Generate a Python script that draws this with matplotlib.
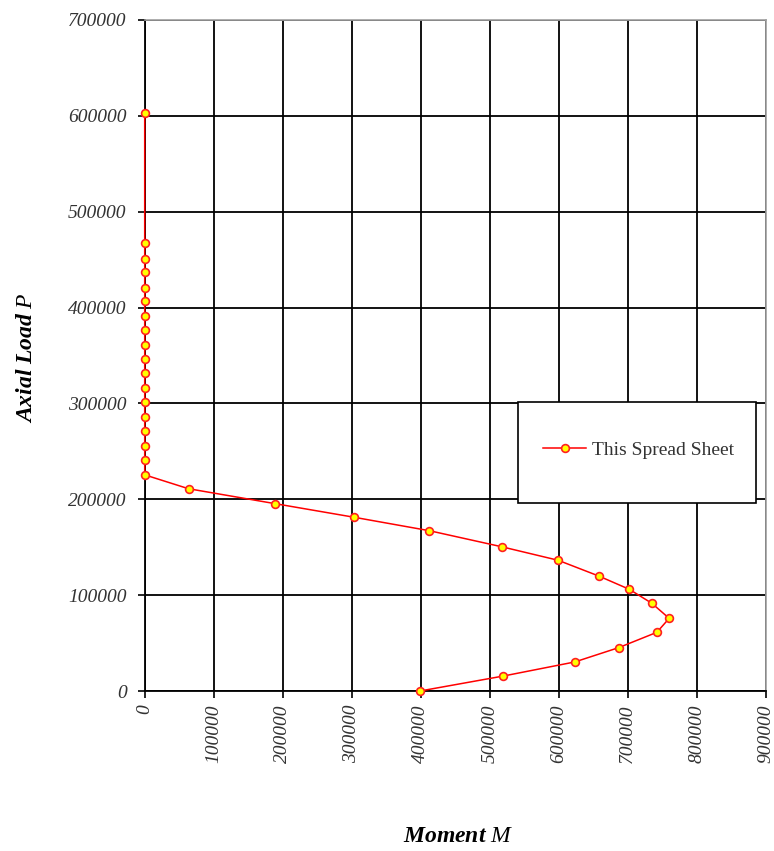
import matplotlib
matplotlib.use("Agg")
import matplotlib.pyplot as plt
from matplotlib.patches import Rectangle

plt.rcParams['font.family'] = ['Liberation Serif', 'DejaVu Serif']
plt.rcParams['mathtext.fontset'] = 'custom'
plt.rcParams['mathtext.rm'] = 'Liberation Serif'
plt.rcParams['mathtext.it'] = 'Liberation Serif:italic'
plt.rcParams['mathtext.bf'] = 'Liberation Serif:italic:bold'

# Data (moment M, axial load P)
moment = [399000, 519700, 623300, 686800, 742200, 760100, 735000, 702300,
          657900, 599100, 517300, 412700, 303900, 189300, 63600,
          0, 0, 0, 0, 0, 0, 0, 0, 0, 0, 0, 0, 0, 0, 0, 0, 0, 0]
axial = [0, 15600, 30300, 45200, 61200, 75800, 91500, 106100,
         120000, 136400, 150500, 167200, 181200, 195400, 211000,
         225500, 241000, 255900, 270900, 286200, 301200, 316400, 331500,
         346400, 361300, 376600, 391600, 406600, 420800, 436800, 451000,
         467100, 602700]
series_label = "This Spread Sheet"
x_ticks = [0, 100000, 200000, 300000, 400000, 500000, 600000, 700000, 800000, 900000]
y_ticks = [0, 100000, 200000, 300000, 400000, 500000, 600000, 700000]

fig = plt.figure(figsize=(7.74, 8.51), dpi=100)
L, R, T, B = 144.7, 765.7, 20.0, 691.0
W, H = 774.0, 851.0
ax = fig.add_axes([L / W, 1 - B / H, (R - L) / W, (B - T) / H])

ax.plot(moment, axial, color='#ff0000', lw=1.1, marker='o', ms=5.6,
        mfc='#ffff00', mec='#ff2020', mew=1.2, label=series_label,
        zorder=3, clip_on=False)

ax.set_xlim(0, 900000)
ax.set_ylim(0, 700000)
ax.set_xticks(x_ticks)
ax.set_yticks(y_ticks)
ax.set_xticklabels([str(v) for v in x_ticks], rotation=90, fontsize=14,
                   fontstyle='italic', color='#333333')
ax.set_yticklabels([str(v) for v in y_ticks], fontsize=14,
                   fontstyle='italic', color='#333333')
ax.tick_params(axis='x', direction='out', length=5, width=1.2, pad=4.5, color='black')
ax.tick_params(axis='y', direction='out', length=5, width=1.2, pad=8, color='black')

ax.grid(True, color='black', lw=1.3)
ax.set_axisbelow(True)
for s in ['left', 'bottom']:
    ax.spines[s].set_color('black')
    ax.spines[s].set_linewidth(1.3)
for s in ['top', 'right']:
    ax.spines[s].set_color('#a0a0a0')
    ax.spines[s].set_linewidth(1.2)

ax.set_xlabel(r"$\mathbf{Moment}\ \mathit{M}$", fontsize=17)
ax.xaxis.set_label_coords((457.7 - L) / (R - L), (B - 836.7) / (B - T))
ax.xaxis.label.set_va('center')
ax.set_ylabel(r"$\mathbf{Axial\ Load}\ \mathit{P}$", fontsize=17)
ax.yaxis.set_label_coords((26.0 - L) / (R - L), (B - 357.5) / (B - T))
ax.yaxis.label.set_va('center')
ax.yaxis.label.set_ha('center')

# Legend box
bx0, bx1, by0, by1 = 518.3, 755.7, 401.7, 503.3
rect = Rectangle(((bx0 - L) / (R - L), (B - by1) / (B - T)),
                 (bx1 - bx0) / (R - L), (by1 - by0) / (B - T),
                 transform=ax.transAxes, facecolor='white', edgecolor='black',
                 lw=1.2, zorder=4, clip_on=False)
ax.add_patch(rect)
leg = ax.legend(loc='center left', bbox_to_anchor=((543.3 - L) / (R - L), (B - 450.0) / (B - T)),
                frameon=False, fontsize=14, handlelength=2.2, handletextpad=0.3,
                borderpad=0, borderaxespad=0)
leg.set_zorder(5)
for t in leg.get_texts():
    t.set_color('#333333')

fig.savefig('out.png', dpi=100)
